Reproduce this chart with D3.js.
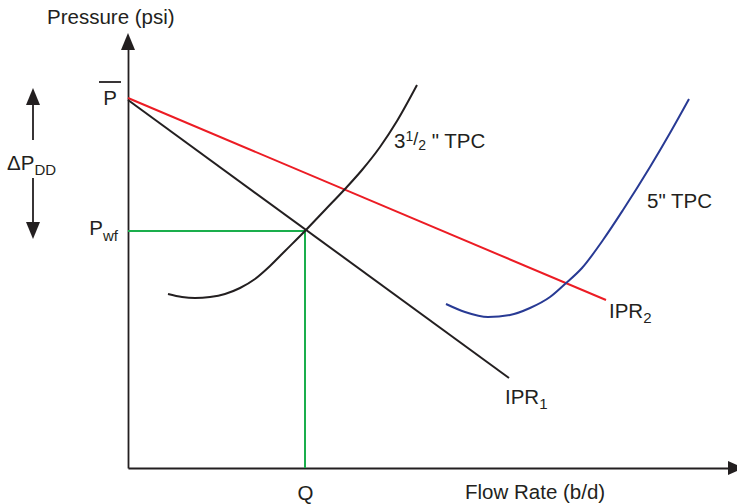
<!DOCTYPE html>
<html>
<head>
<meta charset="utf-8">
<script src="https://cdn.jsdelivr.net/npm/d3@7"></script>
<style>
html,body{margin:0;padding:0;background:#fff;}
svg{display:block;}
text{font-family:"Liberation Sans",Arial,Helvetica,sans-serif;fill:#231f20;}
</style>
</head>
<body>
<svg id="chart" width="737" height="504"></svg>
<script>
// ---- data (arbitrary flow-rate / pressure units) ----
const pBar = 370;           // average reservoir pressure
const pwf = 237;            // flowing bottomhole pressure at operating point
const qOp = 177;            // operating flow rate
const ipr1 = [[0, 368], [381, 90]];
const ipr2 = [[0, 370], [478, 168]];
const tpc35 = [[40,174],[54,171],[67,170],[82,171],[97,174],[112,180],[127,189],[142,202],[157,217],[177,237],[197,258],[217,279],[234,298],[252,321],[269,347],[289,383]];
const tpc5 = [[318,164],[337,156],[360,151],[382,153],[402,160],[422,171],[437,184],[454,200],[475,228],[495,258],[522,301],[542,335],[561,369]];
const xTickLabels = ["Q"];

const svg = d3.select("#chart");
const x = d3.scaleLinear().domain([0, 600]).range([128, 728]);
const y = d3.scaleLinear().domain([0, 435]).range([468, 33]);
const ink = "#231f20";
const sw = 2;

const line = d3.line().x(d => x(d[0])).y(d => y(d[1]));
const curve = d3.line().x(d => x(d[0])).y(d => y(d[1])).curve(d3.curveMonotoneX);

// axes
const xAxis = d3.axisBottom(x).tickValues([qOp]).tickSize(0).tickSizeOuter(0).tickFormat((d,i) => xTickLabels[i]);
const gx = svg.append("g").attr("transform", `translate(0,${y(0)})`).call(xAxis);
gx.select(".domain").attr("stroke", ink).attr("stroke-width", 1.8);
gx.selectAll(".tick text").attr("font-size", 20.5).attr("y", 0).attr("dy", "1.55em").attr("fill", ink)
  .style("font-family", '"Liberation Sans",Arial,sans-serif');

const yAxis = d3.axisLeft(y.copy().range([468, 47])).tickValues([]).tickSize(0).tickSizeOuter(0);
const gy = svg.append("g").attr("transform", `translate(${x(0)},0)`).call(yAxis);
gy.select(".domain").attr("stroke", ink).attr("stroke-width", 1.8);

// arrowheads
svg.append("path").attr("d", `M${x(0)},${y(435)} L${x(0)-7},${y(435)+17} L${x(0)+7},${y(435)+17} Z`).attr("fill", ink);
svg.append("path").attr("d", `M${x(600)+16},${y(0)} L${x(600)},${y(0)-7} L${x(600)},${y(0)+7} Z`).attr("fill", ink);

// green operating point lines
svg.append("path").attr("d", line([[0, pwf], [qOp, pwf]])).attr("stroke", "#1aae4c").attr("stroke-width", sw).attr("fill", "none");
svg.append("path").attr("d", line([[qOp, pwf], [qOp, 0]])).attr("stroke", "#1aae4c").attr("stroke-width", sw).attr("fill", "none");

// IPR lines
svg.append("path").attr("d", line(ipr2)).attr("stroke", "#ec1c24").attr("stroke-width", sw).attr("fill", "none");
svg.append("path").attr("d", line(ipr1)).attr("stroke", ink).attr("stroke-width", sw).attr("fill", "none");

// TPC curves
svg.append("path").attr("d", curve(tpc35)).attr("stroke", ink).attr("stroke-width", sw).attr("fill", "none");
svg.append("path").attr("d", curve(tpc5)).attr("stroke", "#283a94").attr("stroke-width", sw).attr("fill", "none");

// labels
const fs = 20.5, fsSub = 15;
svg.append("text").attr("x", 47).attr("y", 24).attr("font-size", fs).text("Pressure (psi)");
svg.append("text").attr("x", 465).attr("y", 499).attr("font-size", fs).text("Flow Rate (b/d)");

// P bar
svg.append("text").attr("x", 110).attr("y", y(pBar) + 7).attr("font-size", fs).attr("text-anchor", "middle").text("P");
svg.append("line").attr("x1", 99).attr("x2", 121).attr("y1", y(pBar) - 16).attr("y2", y(pBar) - 16).attr("stroke", ink).attr("stroke-width", 1.8);

// Pwf
const tw = svg.append("text").attr("x", 118).attr("y", y(pwf) + 4).attr("font-size", fs).attr("text-anchor", "end");
tw.append("tspan").text("P");
tw.append("tspan").attr("font-size", fsSub).attr("dy", 6).text("wf");

// Delta P_DD
const td = svg.append("text").attr("x", 7).attr("y", 170).attr("font-size", fs);
td.append("tspan").text("ΔP");
td.append("tspan").attr("font-size", fsSub).attr("dy", 5).text("DD");
svg.append("line").attr("x1", 33).attr("x2", 33).attr("y1", 104).attr("y2", 140).attr("stroke", ink).attr("stroke-width", 1.8);
svg.append("path").attr("d", "M33,88 L26,105 L40,105 Z").attr("fill", ink);
svg.append("line").attr("x1", 33).attr("x2", 33).attr("y1", 178).attr("y2", 223).attr("stroke", ink).attr("stroke-width", 1.8);
svg.append("path").attr("d", "M33,239 L26,222 L40,222 Z").attr("fill", ink);

// 3 1/2" TPC
const t35 = svg.append("text").attr("x", 394).attr("y", 148).attr("font-size", fs);
t35.append("tspan").text("3");
t35.append("tspan").attr("font-size", 14).attr("dy", -7).text("1");
t35.append("tspan").attr("font-size", 18).attr("dy", 4).text("/");
t35.append("tspan").attr("font-size", 14).attr("dy", 5).text("2");
t35.append("tspan").attr("dy", -2).text(" \" TPC");

svg.append("text").attr("x", 647).attr("y", 208).attr("font-size", fs).text("5\" TPC");

const ti2 = svg.append("text").attr("x", 609).attr("y", 318).attr("font-size", fs);
ti2.append("tspan").text("IPR");
ti2.append("tspan").attr("font-size", fsSub).attr("dy", 5).text("2");

const ti1 = svg.append("text").attr("x", 505).attr("y", 404).attr("font-size", fs);
ti1.append("tspan").text("IPR");
ti1.append("tspan").attr("font-size", fsSub).attr("dy", 5).text("1");
</script>
</body>
</html>
